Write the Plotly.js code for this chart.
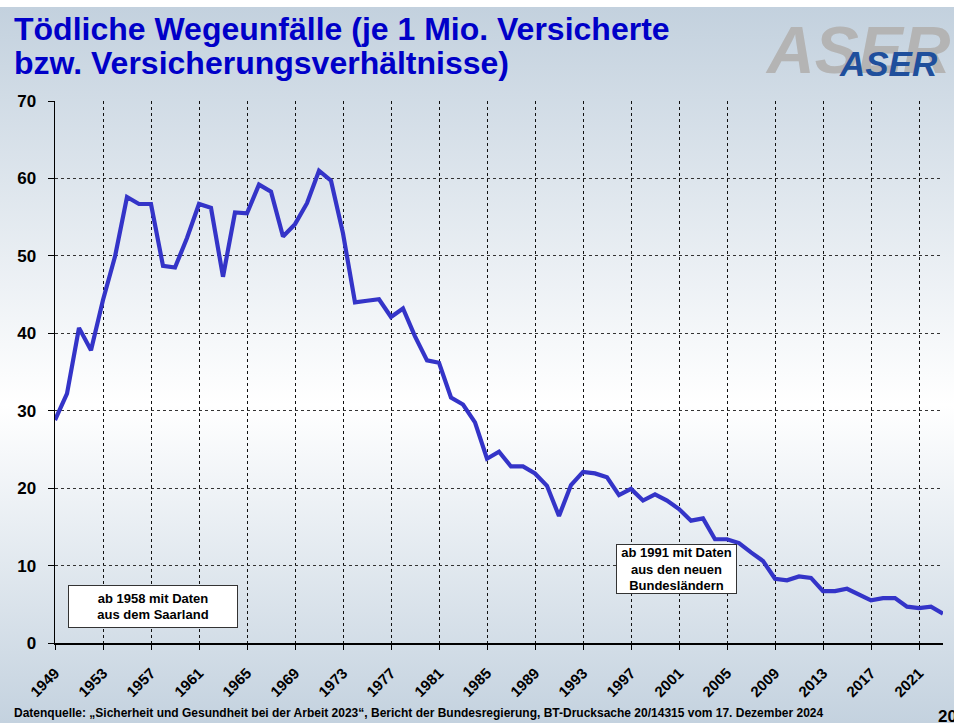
<!DOCTYPE html>
<html>
<head>
<meta charset="utf-8">
<script src="https://cdn.plot.ly/plotly-3.0.1.min.js"></script>
<style>
  html, body { margin:0; padding:0; }
  body {
    width:954px; height:723px; overflow:hidden;
    background: linear-gradient(to bottom, #ffffff 0px, #ffffff 7px, #c3d1de 7px, #ffffff 56%, #c4d2df 100%);
  }
  #chart { width:954px; height:723px; }
</style>
</head>
<body>
<div id="chart"></div>
<script>
// ---- data ----
const years = [1949,1950,1951,1952,1953,1954,1955,1956,1957,1958,1959,1960,1961,1962,1963,1964,1965,1966,1967,1968,1969,1970,1971,1972,1973,1974,1975,1976,1977,1978,1979,1980,1981,1982,1983,1984,1985,1986,1987,1988,1989,1990,1991,1992,1993,1994,1995,1996,1997,1998,1999,2000,2001,2002,2003,2004,2005,2006,2007,2008,2009,2010,2011,2012,2013,2014,2015,2016,2017,2018,2019,2020,2021,2022,2023];
const fatalities = [28.8,32.2,40.7,37.8,44.3,49.9,57.6,56.7,56.7,48.7,48.5,52.3,56.7,56.2,47.3,55.6,55.5,59.2,58.3,52.5,54.1,56.8,61.0,59.7,52.9,44.0,44.2,44.4,42.1,43.2,39.6,36.5,36.2,31.7,30.8,28.5,23.8,24.7,22.8,22.8,21.9,20.3,16.4,20.4,22.1,21.9,21.4,19.1,19.9,18.4,19.2,18.4,17.3,15.8,16.1,13.4,13.4,12.9,11.7,10.6,8.3,8.1,8.6,8.4,6.7,6.7,7.0,6.2,5.5,5.8,5.8,4.7,4.5,4.7,3.8];
const xTickLabels = ['1949','1953','1957','1961','1965','1969','1973','1977','1981','1985','1989','1993','1997','2001','2005','2009','2013','2017','2021'];
const yTicks = [0,10,20,30,40,50,60,70];
const titleLine1 = 'Tödliche Wegeunfälle (je 1 Mio. Versicherte';
const titleLine2 = 'bzw. Versicherungsverhältnisse)';
const note1958 = 'ab 1958 mit Daten<br>aus dem Saarland';
const note1991 = 'ab 1991 mit Daten<br>aus den neuen<br>Bundesländern';
const sourceText = 'Datenquelle: „Sicherheit und Gesundheit bei der Arbeit 2023“, Bericht der Bundesregierung, BT-Drucksache 20/14315 vom 17. Dezember 2024';
const pageNo = '20';
const logoText = 'ASER';

// ---- layout helpers ----
const W = 954, H = 723;
const M = {l:55, r:11, t:101, b:80};
const pw = W - M.l - M.r, ph = H - M.t - M.b;
const px = x => (x - M.l) / pw;
const py = y => (H - M.b - y) / ph;

const narrow = '"Liberation Sans Narrow", "Arial Narrow", "Liberation Sans", Arial, sans-serif';
const sans = '"Liberation Sans", Arial, sans-serif';

const trace = {
  x: years, y: fatalities, type:'scatter', mode:'lines',
  line:{color:'#3434c8', width:4.2}, hoverinfo:'skip'
};

function txt(text, x, y, font, xanchor) {
  return {text:text, xref:'paper', yref:'paper', x:px(x), y:py(y), xanchor:xanchor||'left', yanchor:'middle',
          showarrow:false, font:font};
}

const layout = {
  width:W, height:H,
  margin:M,
  paper_bgcolor:'rgba(0,0,0,0)', plot_bgcolor:'rgba(0,0,0,0)',
  showlegend:false,
  xaxis:{
    range:[1949,2023], tickmode:'array', tickvals:xTickLabels.map(Number), ticktext:xTickLabels,
    tickangle:-45, tickfont:{family:sans, size:15, color:'#000', weight:'bold'},
    ticklabelstandoff:9,
    showline:true, linecolor:'#000', linewidth:1.5, ticks:'outside', ticklen:5, tickcolor:'#000',
    showgrid:true, gridcolor:'#111', griddash:'dot', gridwidth:1, zeroline:false, fixedrange:true
  },
  yaxis:{
    range:[0,70], tickmode:'array', tickvals:yTicks,
    tickfont:{family:sans, size:17, color:'#000', weight:'bold'},
    showline:true, linecolor:'#000', linewidth:1.5, ticks:'outside', ticklen:6, tickcolor:'#000',
    ticklabelstandoff:8,
    showgrid:true, gridcolor:'#333', griddash:'dot', gridwidth:1, zeroline:false, fixedrange:true
  },
  annotations:[
    txt(titleLine1, 12, 29, {family:narrow, size:32, color:'#0000c8', weight:'bold'}),
    txt(titleLine2, 12, 63, {family:narrow, size:32, color:'#0000c8', weight:'bold'}),
    {text:note1958, xref:'paper', yref:'paper', x:px(153), y:py(606.7), xanchor:'center', yanchor:'middle',
     showarrow:false, bgcolor:'#ffffff', bordercolor:'#333', borderwidth:1, borderpad:2, width:164, height:37,
     font:{family:sans, size:13, color:'#000', weight:'bold'}},
    {text:note1991, xref:'paper', yref:'paper', x:px(676.5), y:py(569.3), xanchor:'center', yanchor:'middle',
     showarrow:false, bgcolor:'#ffffff', bordercolor:'#333', borderwidth:1, borderpad:2, width:115, height:44,
     font:{family:sans, size:13, color:'#000', weight:'bold'}},
    txt(logoText, 858, 50, {family:narrow, size:66, color:'#b4b4b4', weight:'bold', style:'italic'}, 'center'),
    txt(logoText, 888, 64, {family:narrow, size:35, color:'#1f4f9c', weight:'bold', style:'italic'}, 'center'),
    txt(sourceText, 12, 713, {family:narrow, size:12, color:'#000', weight:'bold'}),
    txt(pageNo, 936, 716, {family:narrow, size:17, color:'#000', weight:'bold'})
  ]
};

Plotly.newPlot('chart', [trace], layout, {staticPlot:true, displayModeBar:false});
</script>
</body>
</html>
